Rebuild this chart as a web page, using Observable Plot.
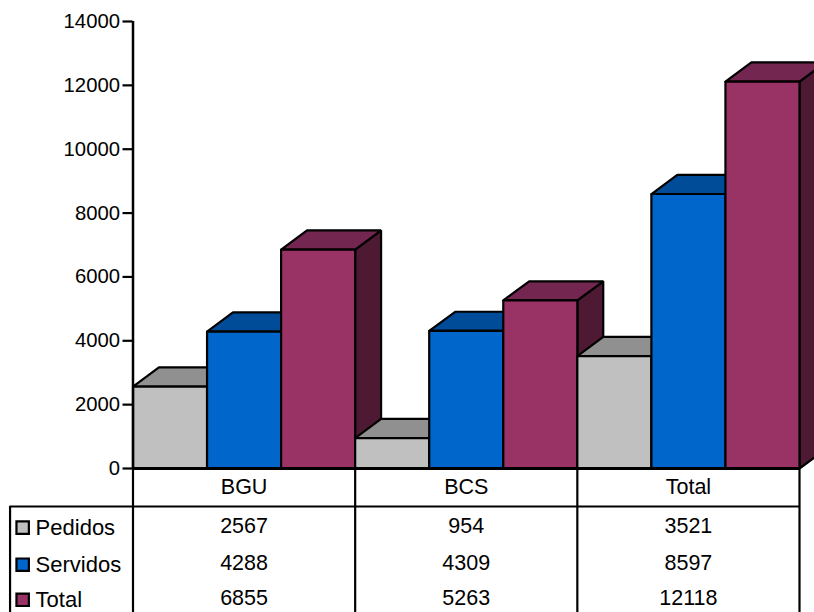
<!DOCTYPE html>
<html>
<head>
<meta charset="utf-8">
<style>html,body{margin:0;padding:0;background:#fff;overflow:hidden}svg{display:block}</style>
<script src="https://cdn.jsdelivr.net/npm/d3@7"></script>
<script src="https://cdn.jsdelivr.net/npm/@observablehq/plot@0.6"></script>
</head>
<body>
<div id="chart"></div>
<script>
const groups = ["BGU", "BCS", "Total"];
const seriesNames = ["Pedidos", "Servidos", "Total"];
const pedidos = [2567, 954, 3521];
const servidos = [4288, 4309, 8597];
const totals = [6855, 5263, 12118];
const yTicks = [0, 2000, 4000, 6000, 8000, 10000, 12000, 14000];
const frontColors = ["#C0C0C0", "#0066CC", "#993366"];
const topColors = ["#909090", "#004C99", "#732650"];
const sideColors = ["#606060", "#003366", "#4D1933"];

const seriesValues = [pedidos, servidos, totals];
const depthX = 0.35;    // bar widths
const depthY = 600;     // value units
const headerRow = -590;
const ruleRow = -1190;
const bottomRow = -4600;
const valueRows = [-1790, -2950, -4050];
const legendX = -1.315, swatchX = -1.49, leftEdge = -1.66;

const faces = [];
groups.forEach((g, gi) => seriesValues.forEach((vals, si) => {
  const x0 = gi * 3 + si, x1 = x0 + 1, v = vals[gi], id = `${g}-${si}`;
  const add = (face, fill, pts) => pts.concat([pts[0]]).forEach(([x, y]) =>
    faces.push({id: `${id}-${face}`, fill, x, y}));
  add("side", sideColors[si], [[x1, 0], [x1 + depthX, depthY], [x1 + depthX, v + depthY], [x1, v]]);
  add("top", topColors[si], [[x0, v], [x0 + depthX, v + depthY], [x1 + depthX, v + depthY], [x1, v]]);
  add("front", frontColors[si], [[x0, 0], [x0, v], [x1, v], [x1, 0]]);
}));

const tableCells = seriesValues.flatMap((vals, si) =>
  vals.map((v, gi) => ({x: gi * 3 + 1.5, y: valueRows[si], text: String(v)})));
const headerCells = groups.map((g, gi) => ({x: gi * 3 + 1.5, y: headerRow, text: g}));
const legendRows = seriesNames.map((s, si) => ({name: s, y: valueRows[si], fill: frontColors[si]}));

const chart = Plot.plot({
  width: 814,
  height: 612,
  marginLeft: 132.5,
  marginRight: 15,
  marginTop: 21,
  marginBottom: 144,
  style: {fontFamily: "'Liberation Sans', Arial, sans-serif", fontSize: "20px", background: "#fff", color: "#000"},
  x: {domain: [0, 9], axis: null},
  y: {domain: [0, 14000], axis: null},
  marks: [
    Plot.line(faces, {
      x: "x", y: "y", z: "id",
      fill: {value: d => d.fill, scale: null},
      stroke: "#000", strokeWidth: 2.2, strokeLinejoin: "miter", curve: "linear"
    }),
    Plot.axisY(yTicks, {
      anchor: "left", label: null, tickSize: 10, tickPadding: 3,
      fontSize: 20.3, stroke: "#000", strokeWidth: 2.2,
      tickFormat: d => String(d)
    }),
    Plot.ruleX([0], {y1: 0, y2: 14000, stroke: "#000", strokeWidth: 2.5}),
    Plot.ruleX([0, 3, 6, 9], {y1: 0, y2: bottomRow, stroke: "#000", strokeWidth: 2.2}),
    Plot.ruleX([leftEdge], {y1: ruleRow, y2: bottomRow, stroke: "#000", strokeWidth: 2.2}),
    Plot.ruleY([0], {x1: 0, x2: 9, stroke: "#000", strokeWidth: 3}),
    Plot.ruleY([ruleRow], {x1: leftEdge, x2: 9, stroke: "#000", strokeWidth: 2.2}),
    Plot.text(headerCells, {x: "x", y: "y", text: "text", fontSize: 21.5, fill: "#000"}),
    Plot.text(tableCells, {x: "x", y: "y", text: "text", fontSize: 21.5, fill: "#000"}),
    Plot.dot(legendRows, {
      x: () => swatchX, y: "y", dy: 2, symbol: "square", r: 7,
      fill: {value: d => d.fill, scale: null}, stroke: "#000", strokeWidth: 2.2
    }),
    Plot.text(legendRows, {
      x: () => legendX, y: "y", dy: 2, text: "name", textAnchor: "start", fontSize: 22, fill: "#000"
    })
  ]
});
document.getElementById("chart").appendChild(chart);
</script>
</body>
</html>
